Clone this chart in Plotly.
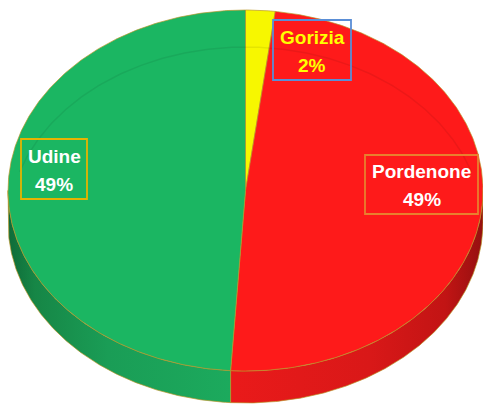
import numpy as np
import plotly.graph_objects as go

# Province shares (percent)
province = ["Gorizia", "Pordenone", "Udine"]
share = [2, 49, 49]

# Slice styling
top_colors = ["#f7f700", "#fe1a1a", "#1bb662"]
side_scales = [
    [[0, "#c8c800"], [1, "#e0e000"]],
    [[0, "#ea1a1a"], [0.55, "#d91818"], [0.85, "#c21414"], [1, "#951010"]],
    [[0, "#0f6b38"], [0.12, "#168646"], [0.45, "#1a9d56"], [1, "#1caa5d"]],
]
label_font = ["#ffff00", "#ffffff", "#ffffff"]
label_border = ["#5a8ed6", "#e8802e", "#e6b400"]
label_xy = [(312, 50), (421.5, 184.5), (54, 169)]
label_box = [(78, 60), (113, 59), (66, 60)]

# Ellipse geometry of the tilted pie (pixel space)
CX, CY, RX, RY, DEPTH = 245.5, 190.5, 237.5, 180.5, 32.0
EDGE = "rgba(185,150,40,0.85)"


def ellipse(theta_deg, dy=0.0):
    t = np.radians(theta_deg)
    return CX + RX * np.sin(t), CY - RY * np.cos(t) + dy


fig = go.Figure()

total = float(sum(share))
bounds = np.concatenate([[0.0], np.cumsum(share) / total * 360.0])

# Side wall (only the front half, 90..270 degrees, is visible)
for i in range(len(share)):
    a, b = max(bounds[i], 90.0), min(bounds[i + 1], 270.0)
    if a >= b:
        continue
    th = np.linspace(a, b, 200)
    xt, yt = ellipse(th)
    xb, yb = ellipse(th[::-1], DEPTH)
    xs = np.concatenate([xt, xb, xt[:1]])
    ys = np.concatenate([yt, yb, yt[:1]])
    fig.add_trace(go.Scatter(
        x=xs, y=ys, mode="lines", fill="toself",
        fillgradient=dict(type="horizontal", colorscale=side_scales[i]),
        line=dict(color=EDGE, width=0.8),
        hoverinfo="skip", showlegend=False,
    ))

# Top face slices
for i in range(len(share)):
    th = np.linspace(bounds[i], bounds[i + 1], max(int(bounds[i + 1] - bounds[i]) * 2, 8))
    xa, ya = ellipse(th)
    xs = np.concatenate([[CX], xa, [CX]])
    ys = np.concatenate([[CY], ya, [CY]])
    fig.add_trace(go.Scatter(
        x=xs, y=ys, mode="lines", fill="toself", fillcolor=top_colors[i],
        line=dict(color=EDGE, width=0.8),
        name=province[i], hoverinfo="name", showlegend=False,
    ))

# Faint bevel reflection across the top face
th = np.linspace(-72, 72, 200)
xr, yr = ellipse(th, DEPTH + 5)
fig.add_trace(go.Scatter(
    x=xr, y=yr, mode="lines", line=dict(color="rgba(0,0,0,0.07)", width=1.5),
    hoverinfo="skip", showlegend=False,
))

# Data labels: framed box with name and percentage on two lines
FONT = "Liberation Sans, Arial, sans-serif"
for i in range(len(share)):
    pct = round(share[i] / total * 100)
    x0, y0 = label_xy[i]
    w, h = label_box[i]
    fig.add_shape(
        type="rect", xref="x", yref="y",
        x0=x0 - w / 2, x1=x0 + w / 2, y0=y0 - h / 2, y1=y0 + h / 2,
        line=dict(color=label_border[i], width=1.8),
    )
    for txt, off in ((province[i], -13), (f"{pct}%", 15)):
        fig.add_annotation(
            x=x0, y=y0 + off, xref="x", yref="y",
            text=f"<b>{txt}</b>", showarrow=False,
            font=dict(family=FONT, size=19, color=label_font[i]),
            xanchor="center", yanchor="middle",
        )

fig.update_layout(
    width=483, height=404,
    margin=dict(l=0, r=0, t=0, b=0),
    paper_bgcolor="white", plot_bgcolor="white",
    xaxis=dict(range=[0, 483], visible=False, fixedrange=True),
    yaxis=dict(range=[404, 0], visible=False, fixedrange=True),
)

fig.write_html("out.html")
